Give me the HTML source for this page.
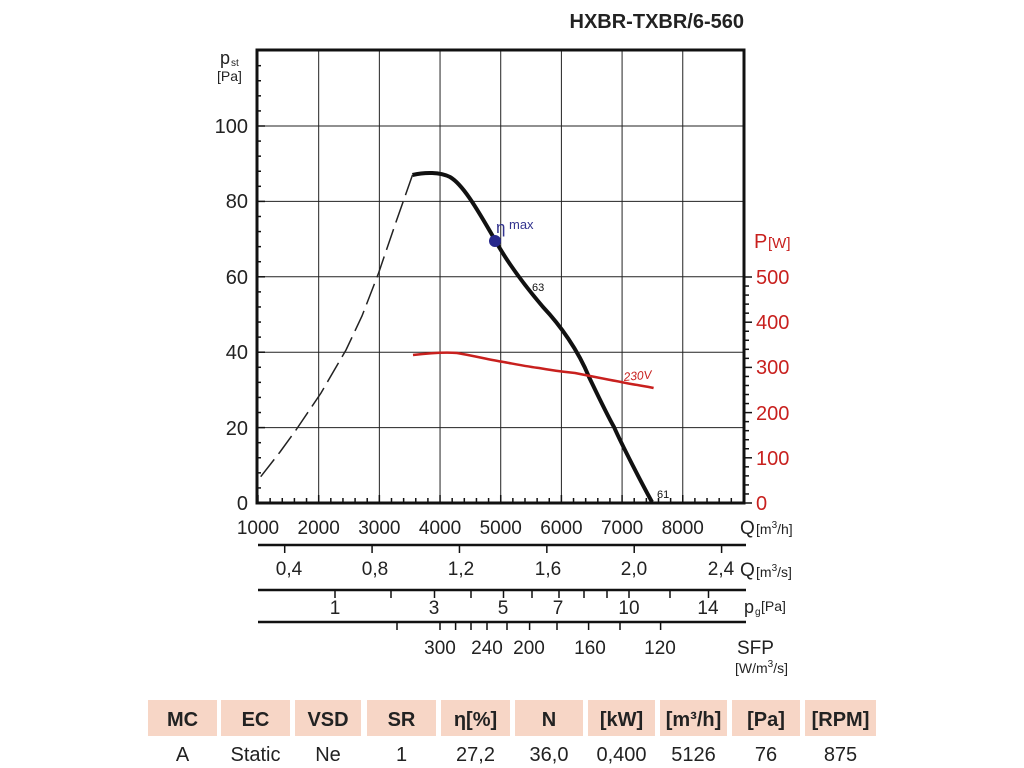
<!DOCTYPE html>
<html><head><meta charset="utf-8"><style>
body{margin:0;background:#fff;width:1024px;height:768px;overflow:hidden;font-family:"Liberation Sans",sans-serif}
svg{position:absolute;left:0;top:0}
</style></head><body>
<svg id="s" width="1024" height="768" viewBox="0 0 1024 768" font-family="Liberation Sans, sans-serif">
<text x="744" y="28" font-size="20" font-weight="bold" text-anchor="end" fill="#222">HXBR-TXBR/6-560</text>
<g id="grid" stroke="#222" stroke-width="1"></g>
<g id="ticks" stroke="#111" stroke-width="1.5"></g>
<rect x="257" y="50" width="487" height="453" fill="none" stroke="#111" stroke-width="3"/>
<polyline fill="none" stroke="#222" stroke-width="1.5" stroke-dasharray="22,7" points="260.7,476.7 280,452 296,430 321,393 346,350 362,316 378.6,273 396,222 412.5,175"/>
<path fill="none" stroke="#111" stroke-width="4" d="M412.5,175 C425,172 440,172 450,177 C462,184 475,205 495,240 C505,258 520,280 543,307 C560,325 578,350 589,377 C600,400 610,420 614,427 C622,445 640,480 652,502"/>
<path fill="none" stroke="#c8201e" stroke-width="2.5" d="M413,355 C430,353 445,352 457,353 C475,356 490,360 503.6,362 C520,365 530,367 539,368 C555,371 565,372 575,373 C595,377 610,380 621,382 C635,385 645,386 653.6,388"/>
<circle cx="495" cy="241" r="6" fill="#27288c"/>
<text x="496" y="233" font-size="17" fill="#33348f">η</text>
<text x="509" y="229" font-size="13" fill="#33348f">max</text>
<text x="532" y="291" font-size="11" fill="#111">63</text>
<text x="657" y="498" font-size="11" fill="#111">61</text>
<text x="624" y="381" font-size="12" font-style="italic" fill="#c8201e" transform="rotate(-5 624 381)">230V</text>
<text x="220" y="64" font-size="18" fill="#222">p</text><text x="231" y="66" font-size="10" fill="#222">st</text>
<text x="217" y="81" font-size="14" fill="#222">[Pa]</text>
<g font-size="20" fill="#222" text-anchor="end">
<text x="248" y="510">0</text><text x="248" y="435">20</text><text x="248" y="359">40</text><text x="248" y="284">60</text><text x="248" y="208">80</text><text x="248" y="133">100</text>
</g>
<g font-size="20" fill="#c8201e">
<text x="756" y="510">0</text><text x="756" y="465">100</text><text x="756" y="420">200</text><text x="756" y="374">300</text><text x="756" y="329">400</text><text x="756" y="284">500</text>
<text x="754" y="248">P</text><text x="768" y="248" font-size="15">[W]</text>
</g>
<g font-size="19" fill="#222" text-anchor="middle" id="xl"></g>
<text x="740" y="534" font-size="19" fill="#222">Q</text><text x="756" y="534" font-size="14" fill="#222">[m<tspan font-size="10" dy="-6">3</tspan><tspan dy="6">/h]</tspan></text>
<line x1="258" y1="545" x2="746" y2="545" stroke="#111" stroke-width="2.5"/>
<line x1="258" y1="590" x2="746" y2="590" stroke="#111" stroke-width="2.5"/>
<line x1="258" y1="622" x2="746" y2="622" stroke="#111" stroke-width="2.5"/>
<g font-size="19" fill="#222" text-anchor="middle">
<text x="289" y="575">0,4</text><text x="375" y="575">0,8</text><text x="461" y="575">1,2</text><text x="548" y="575">1,6</text><text x="634" y="575">2,0</text><text x="721" y="575">2,4</text>
<text x="335" y="614">1</text><text x="434" y="614">3</text><text x="503" y="614">5</text><text x="558" y="614">7</text><text x="629" y="614">10</text><text x="708" y="614">14</text>
<text x="440" y="654">300</text><text x="487" y="654">240</text><text x="529" y="654">200</text><text x="590" y="654">160</text><text x="660" y="654">120</text>
</g>
<text x="740" y="576" font-size="19" fill="#222">Q</text><text x="756" y="577" font-size="14" fill="#222">[m<tspan font-size="10" dy="-6">3</tspan><tspan dy="6">/s]</tspan></text>
<text x="744" y="613" font-size="18" fill="#222">p</text><text x="755" y="615" font-size="10" fill="#222">g</text><text x="761" y="611" font-size="14" fill="#222">[Pa]</text>
<text x="737" y="654" font-size="19" fill="#222">SFP</text>
<text x="735" y="673" font-size="14" fill="#222">[W/m<tspan font-size="10" dy="-6">3</tspan><tspan dy="6">/s]</tspan></text>
<g id="tbl"></g>
</svg>
<script>
const NS="http://www.w3.org/2000/svg";
function el(p,t,a,txt){const e=document.createElementNS(NS,t);for(const k in a)e.setAttribute(k,a[k]);if(txt!=null)e.textContent=txt;document.getElementById(p).appendChild(e);return e;}
const X=q=>258+(q-1000)*0.06068, Y=v=>503-v*3.77;
for(let q=2000;q<=8000;q+=1000)el("grid","line",{x1:X(q),y1:50,x2:X(q),y2:503});
for(let v=20;v<=100;v+=20)el("grid","line",{x1:257,y1:Y(v),x2:744,y2:Y(v)});
for(let v=0;v<=120;v+=4){const m=v%20==0;el("ticks","line",{x1:257,y1:Y(v),x2:257+(m?8:4),y2:Y(v)});}
for(let q=1000;q<=9000;q+=200){const m=q%1000==0;el("ticks","line",{x1:X(q),y1:503,x2:X(q),y2:503-(m?8:5)});}
for(let w=0;w<=500;w+=20){const y=503-w*0.452,m=w%100==0;el("ticks","line",{x1:744,y1:y,x2:744+(m?8:5),y2:y});}
for(let q=1000;q<=8000;q+=1000)el("xl","text",{x:X(q),y:534},q);
[1440,2880,4320,5760,7200,8640].forEach(q=>el("ticks","line",{x1:X(q),y1:545,x2:X(q),y2:553}));
[335,391,434.5,471,503.5,532,559,584,607,629,670,708.5].forEach(x=>el("ticks","line",{x1:x,y1:590,x2:x,y2:598}));
[397,440,455.6,471,487,507,529.6,557,588.6,620,660.6].forEach(x=>el("ticks","line",{x1:x,y1:622,x2:x,y2:630}));
const cells=[[148,217,"MC","A"],[221,290,"EC","Static"],[295,361,"VSD","Ne"],[367,436,"SR","1"],[441,510,"η[%]","27,2"],[515,583,"N","36,0"],[588,655,"[kW]","0,400"],[660,727,"[m³/h]","5126"],[732,800,"[Pa]","76"],[805,876,"[RPM]","875"]];
cells.forEach(c=>{el("tbl","rect",{x:c[0],y:700,width:c[1]-c[0],height:36,fill:"#f7d6c6"});
const cx=(c[0]+c[1])/2;el("tbl","text",{x:cx,y:726,"font-size":20,"font-weight":"bold","text-anchor":"middle",fill:"#222"},c[2]);
el("tbl","text",{x:cx,y:761,"font-size":20,"text-anchor":"middle",fill:"#222"},c[3]);});
</script>
</body></html>
